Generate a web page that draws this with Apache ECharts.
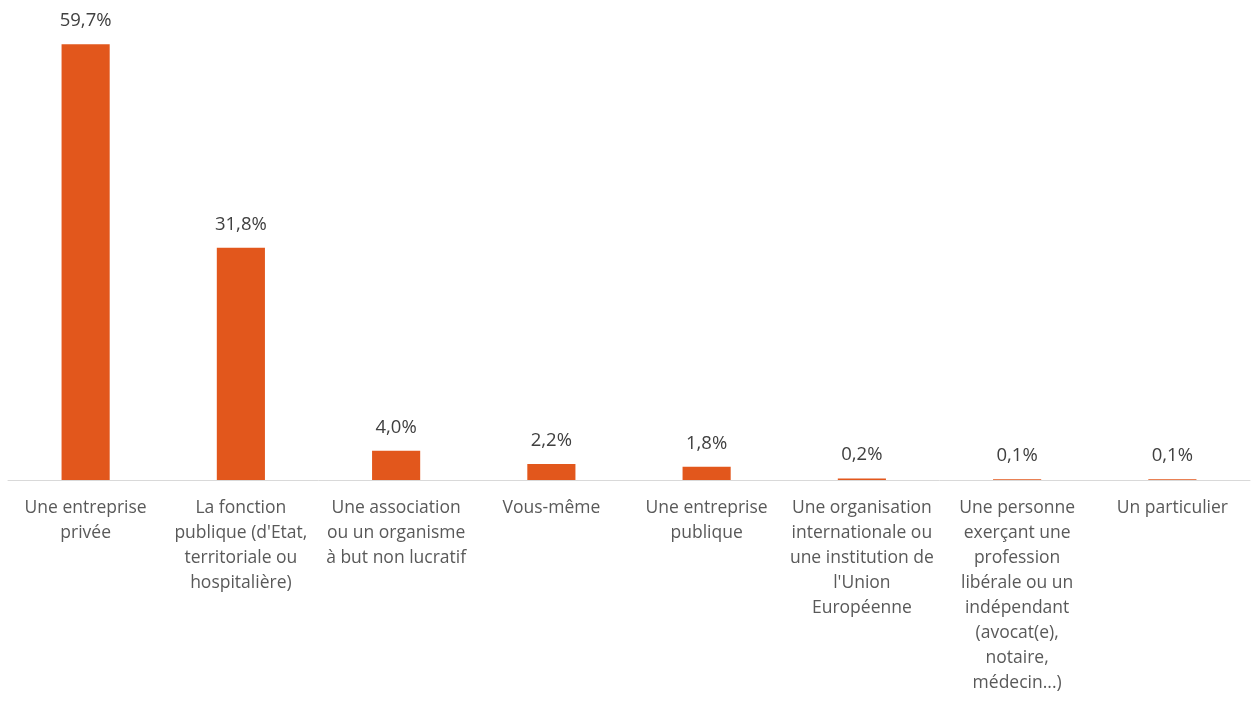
<!DOCTYPE html>
<html>
<head>
<meta charset="utf-8">
<script src="https://cdn.jsdelivr.net/npm/echarts@6/dist/echarts.min.js"></script>
<style>
  html, body { margin: 0; padding: 0; background: #fff; }
  #chart { width: 1257px; height: 702px; }
</style>
</head>
<body>
<div id="chart"></div>
<script>
// catégories (retours à la ligne comme dans l'original)
const categories = [
    "Une entreprise\nprivée",
    "La fonction\npublique (d'Etat,\nterritoriale ou\nhospitalière)",
    "Une association\nou un organisme\nà but non lucratif",
    "Vous-même",
    "Une entreprise\npublique",
    "Une organisation\ninternationale ou\nune institution de\nl'Union\nEuropéenne",
    "Une personne\nexerçant une\nprofession\nlibérale ou un\nindépendant\n(avocat(e),\nnotaire,\nmédecin...)",
    "Un particulier"
];
const values = [59.7, 31.8, 4.0, 2.2, 1.8, 0.2, 0.1, 0.1];

const myChart = echarts.init(document.getElementById("chart"));
myChart.setOption({
    animation: false,
    textStyle: { fontFamily: "Open Sans" },
    grid: {
        left: 8,
        right: 7,
        top: 42,
        bottom: 222
    },
    xAxis: {
        type: "category",
        data: categories,
        axisLine: { lineStyle: { color: "#d9d9d9", width: 1 } },
        axisTick: { show: false },
        axisLabel: {
            interval: 0,
            color: "#595959",
            fontSize: 17.5,
            lineHeight: 25,
            margin: 16
        }
    },
    yAxis: {
        type: "value",
        min: 0,
        max: 60,
        show: false
    },
    series: [{
        type: "bar",
        data: values,
        barWidth: "31%",
        itemStyle: { color: "#e2571c" },
        label: {
            show: true,
            position: "top",
            distance: 14,
            color: "#404040",
            fontSize: 18.5,
            formatter: (p) => p.value.toFixed(1).replace(".", ",") + "%"
        }
    }]
});
</script>
</body>
</html>
